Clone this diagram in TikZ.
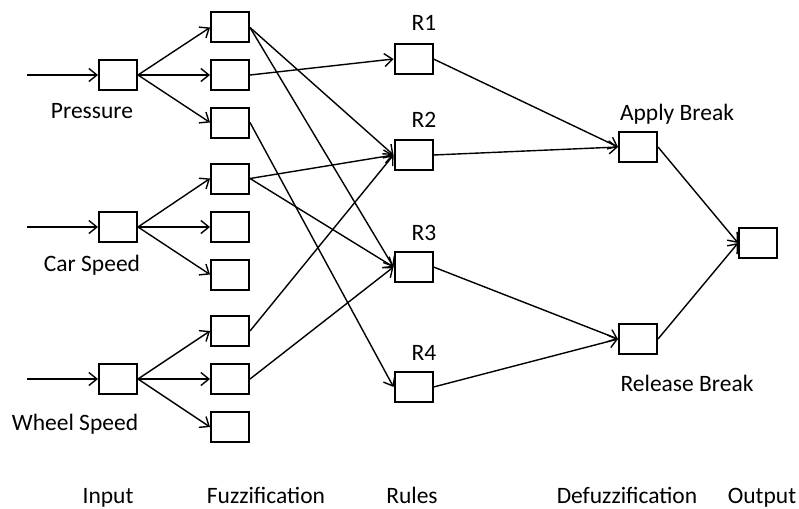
\documentclass[tikz,border=0pt]{standalone}
\usepackage{fontspec}
\setmainfont{Carlito}
\usetikzlibrary{arrows.meta}
\begin{document}
\begin{tikzpicture}[x=1pt,y=-1pt,
  box/.style={draw, line width=2pt, minimum width=38pt, minimum height=30pt, inner sep=0pt},
  link/.style={line width=1.4pt, -{Straight Barb[length=8pt,width=13pt,line width=1.4pt]}},
  lbl/.style={font=\fontsize{23.5}{28}\selectfont, inner sep=0pt, anchor=base}]
\useasboundingbox (0,0) rectangle (799,508);

% input layer
\node[box] (p) at (118,75) {};
\node[box] (c) at (118,227) {};
\node[box] (w) at (118,379) {};
\coordinate (pin) at (27,75);
\coordinate (cin) at (27,227);
\coordinate (win) at (27,379);

% fuzzification layer
\foreach \n/\y in {f1/27.5,f2/75,f3/122.5,f4/178.5,f5/227,f6/274.5,f7/331,f8/379,f9/427}
  \node[box] (\n) at (230,\y) {};

% rules
\node[box] (r1) at (413.5,59) {};
\node[box] (r2) at (413.5,155) {};
\node[box] (r3) at (413.5,267) {};
\node[box] (r4) at (413.5,387) {};

% defuzzification and output
\node[box] (ab) at (638,147) {};
\node[box] (rb) at (638,339) {};
\node[box] (out) at (758,243) {};

% labels
\node[lbl] at (92,118) {Pressure};
\node[lbl] at (92,271) {Car Speed};
\node[lbl] at (75,430) {Wheel Speed};
\node[lbl] at (424,31) {R1};
\node[lbl] at (424,127) {R2};
\node[lbl] at (424,240) {R3};
\node[lbl] at (424,360) {R4};
\node[lbl] at (677,120) {Apply Break};
\node[lbl] at (687,391) {Release Break};
\node[lbl] at (108,503) {Input};
\node[lbl] at (266,503) {Fuzzification};
\node[lbl] at (412,503) {Rules};
\node[lbl] at (627,503) {Defuzzification};
\node[lbl] at (762,503) {Output};

% connectors
\draw[link] (pin) -- (p.west);
\draw[link] (cin) -- (c.west);
\draw[link] (win) -- (w.west);
\foreach \s/\a/\b/\c in {p/f1/f2/f3, c/f4/f5/f6, w/f7/f8/f9}{
  \draw[link] (\s.east) -- (\a.west);
  \draw[link] (\s.east) -- (\b.west);
  \draw[link] (\s.east) -- (\c.west);
}
\draw[link] (f1.east) -- (r2.west);
\draw[link] (f1.east) -- (r3.west);
\draw[link] (f2.east) -- (r1.west);
\draw[link] (f3.east) -- (r4.west);
\draw[link] (f4.east) -- (r2.west);
\draw[link] (f4.east) -- (r3.west);
\draw[link] (f7.east) -- (r2.west);
\draw[link] (f8.east) -- (r3.west);
\draw[link] (r1.east) -- (ab.west);
\draw[link] (r2.east) -- (ab.west);
\draw[link] (r3.east) -- (rb.west);
\draw[link] (r4.east) -- (rb.west);
\draw[link] (ab.east) -- (out.west);
\draw[link] (rb.east) -- (out.west);
\end{tikzpicture}
\end{document}
